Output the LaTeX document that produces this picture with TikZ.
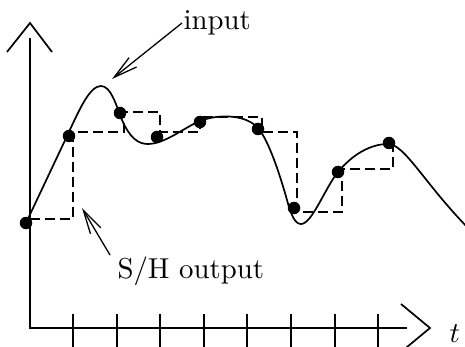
\documentclass[tikz,border=0pt]{standalone}
\usetikzlibrary{arrows.meta}
\begin{document}
\begin{tikzpicture}[x=1pt,y=-1pt,
  axisline/.style={line width=1.7pt, line join=miter},
  signal/.style={line width=1.7pt},
  holdline/.style={line width=1.5pt, dash pattern=on 10pt off 5pt},
  dot/.style={circle, fill=black, inner sep=0pt, minimum size=12.5pt},
  lbl/.style={inner sep=0pt, scale=2.88},
  callout/.style={line width=1.3pt, -{Straight Barb[length=24pt,width=12pt]}}]
\useasboundingbox (0,0) rectangle (465,347);
\clip (0,0) rectangle (465,347);
% axes
\draw[axisline] (30,38) -- (30,328) -- (407,328);
\draw[axisline] (7,52) -- (30,23) -- (52,52);
\draw[axisline] (401,304) -- (430,328) -- (401,352);
\foreach \x in {73,117,160,204,247,291,335,378}
  \draw[axisline] (\x,314) -- (\x,352);
% input signal
\draw[signal] (26,223) -- (68,134)
  .. controls (80,108) and (90,86) .. (101,86)
  .. controls (111,86) and (116,105) .. (122,120)
  .. controls (130,138) and (138,144) .. (148,144)
  .. controls (165,144) and (185,127) .. (200,121)
  .. controls (215,115) and (243,113) .. (257,127)
  .. controls (268,138) and (280,175) .. (287,200)
  .. controls (291,215) and (295,224) .. (301,224)
  .. controls (312,224) and (325,188) .. (338,172)
  .. controls (352,155) and (370,144) .. (388,144)
  .. controls (405,144) and (425,185) .. (472,232);
% sample and hold output
\draw[holdline] (30,219) -- (73,219) -- (73,132) -- (124,132) -- (124,112)
  -- (160,112) -- (160,132) -- (200,132) -- (200,117) -- (262,117)
  -- (262,132) -- (297,132) -- (297,212) -- (342,212) -- (342,169)
  -- (393,169) -- (393,147);
% samples
\foreach \p/\n in {{26,223}/s1,{69,136}/s2,{120,113}/s3,{157,137}/s4,{200,122}/s5,{258,129}/s6,{294,208}/s7,{338,172}/s8,{389,143}/s9}
  \node[dot] (\n) at (\p) {};
% labels
\node[lbl, anchor=base west] (input) at (183,30) {input};
\node[lbl, anchor=base west] (sh) at (117,278) {S/H output};
\node[lbl, anchor=base west] (tlbl) at (449,342) {$t$};
\coordinate (inStart) at (182,23);
\coordinate (inTip) at (112,79);
\coordinate (shStart) at (110,255);
\coordinate (shTip) at (82,208);
\draw[callout] (inStart) -- (inTip);
\draw[callout] (shStart) -- (shTip);
\end{tikzpicture}
\end{document}
